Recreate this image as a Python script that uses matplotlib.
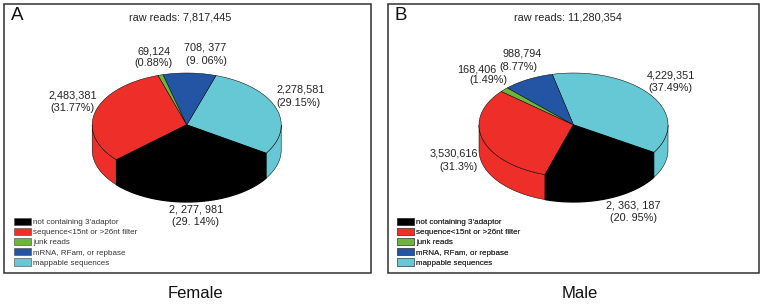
import numpy as np
import matplotlib
matplotlib.use("Agg")
import matplotlib.pyplot as plt
from matplotlib.patches import Rectangle

plt.rcParams['font.family'] = ['Liberation Sans', 'DejaVu Sans']

categories = ["not containing 3'adaptor", "sequence<15nt or >26nt filter", "junk reads",
              "mRNA, RFam, or repbase", "mappable sequences"]
colors = ["#000000", "#EE2E29", "#6CB33F", "#2455A4", "#66C8D4"]
female_reads = [2277981, 2483381, 69124, 708377, 2278581]
male_reads = [2363187, 3530616, 168406, 988794, 4229351]
female_title = "raw reads: 7,817,445"
male_title = "raw reads: 11,280,354"
female_labels = [("2, 277, 981", "(29. 14%)"), ("2,483,381", "(31.77%)"), ("69,124", "(0.88%)"),
                 ("708, 377", "(9. 06%)"), ("2,278,581", "(29.15%)")]
male_labels = [("2, 363, 187", "(20. 95%)"), ("3,530,616", "(31.3%)"), ("168,406", "(1.49%)"),
               ("988,794", "(8.77%)"), ("4,229,351", "(37.49%)")]

fig = plt.figure(figsize=(7.62, 3.05), dpi=100)
ax = fig.add_axes([0, 0, 1, 1])
ax.set_xlim(0, 762)
ax.set_ylim(305, 0)
ax.axis('off')

RX, RY, DEPTH = 94.5, 52, 25
EDGE = "#000000"


def pie3d(cx, cy, values, end_deg):
    fr = np.array(values, float) / sum(values)
    a = end_deg
    spans = {}
    for i in [4, 3, 2, 1, 0]:
        spans[i] = (a, a + fr[i] * 360)
        a += fr[i] * 360
    for i, (a0, a1) in spans.items():
        lw = 0.9 if i == 0 else 0.35
        for lo, hi in [(a0, a1), (a0 + 360, a1 + 360), (a0 - 360, a1 - 360)]:
            l, h = max(lo, 180), min(hi, 360)
            if h > l:
                t = np.radians(np.linspace(l, h, 80))
                x = cx + RX * np.cos(t)
                y = cy - RY * np.sin(t)
                ax.fill(np.r_[x, x[::-1]], np.r_[y, y[::-1] + DEPTH],
                        facecolor=colors[i], edgecolor=EDGE, linewidth=lw, zorder=2)
    for i, (a0, a1) in spans.items():
        lw = 0.9 if i == 0 else 0.35
        t = np.radians(np.linspace(a0, a1, 120))
        ax.fill(np.r_[cx, cx + RX * np.cos(t)], np.r_[cy, cy - RY * np.sin(t)],
                facecolor=colors[i], edgecolor=EDGE, linewidth=lw, zorder=3 if i else 4)


def panel(x0, x1, letter, lx, title, tx, values, end_deg, cx, labels, positions, name, nx, legx):
    ax.add_patch(Rectangle((x0, 3.7), x1 - x0, 269, fill=False, edgecolor="#303030", linewidth=1.1))
    ax.text(lx, 15.5, letter, fontsize=13.5, ha='center', va='center', color="#111111")
    ax.text(tx, 17.5, title, fontsize=7.8, ha='center', va='center', color="#222222")
    pie3d(cx, 125, values, end_deg)
    for lines, pos in zip(labels, positions):
        for s, (px, py) in zip(lines, pos):
            ax.text(px, py, s, fontsize=7.8, ha='center', va='center', color="#222222")
    ax.text(nx, 293, name, fontsize=12, ha='center', va='center', color="#111111")
    handles = [Rectangle((0, 0), 1, 1, facecolor=c, edgecolor="#444444", linewidth=0.4) for c in colors]
    leg = ax.legend(handles, categories, loc='upper left', bbox_to_anchor=(legx / 762, 1 - 217.5 / 305),
                    bbox_transform=fig.transFigure, frameon=False, fontsize=5.8, handlelength=2.1,
                    handleheight=1.0, handletextpad=0.3, labelspacing=0.23, borderpad=0, borderaxespad=0)
    for tx_ in leg.get_texts():
        tx_.set_color("#333333")
    ax.add_artist(leg)


panel(3.5, 370.5, "A", 17.5, female_title, 180, female_reads, -33, 186.7, female_labels,
      [((196, 209), (195, 222)), ((73, 95), (72, 108)), ((154, 51), (153, 63)),
       ((205, 48), (206, 61)), ((301, 90), (298, 103))], "Female", 195.5, 14)
panel(388.3, 758.7, "B", 400.5, male_title, 567.5, male_reads, -32, 573.5, male_labels,
      [((633, 206), (633, 218)), ((454, 154), (459, 167)), ((477, 69), (488, 80)),
       ((522, 54), (518, 67)), ((671, 76), (670, 88))], "Male", 580, 397)

fig.savefig("out.png", dpi=100)
